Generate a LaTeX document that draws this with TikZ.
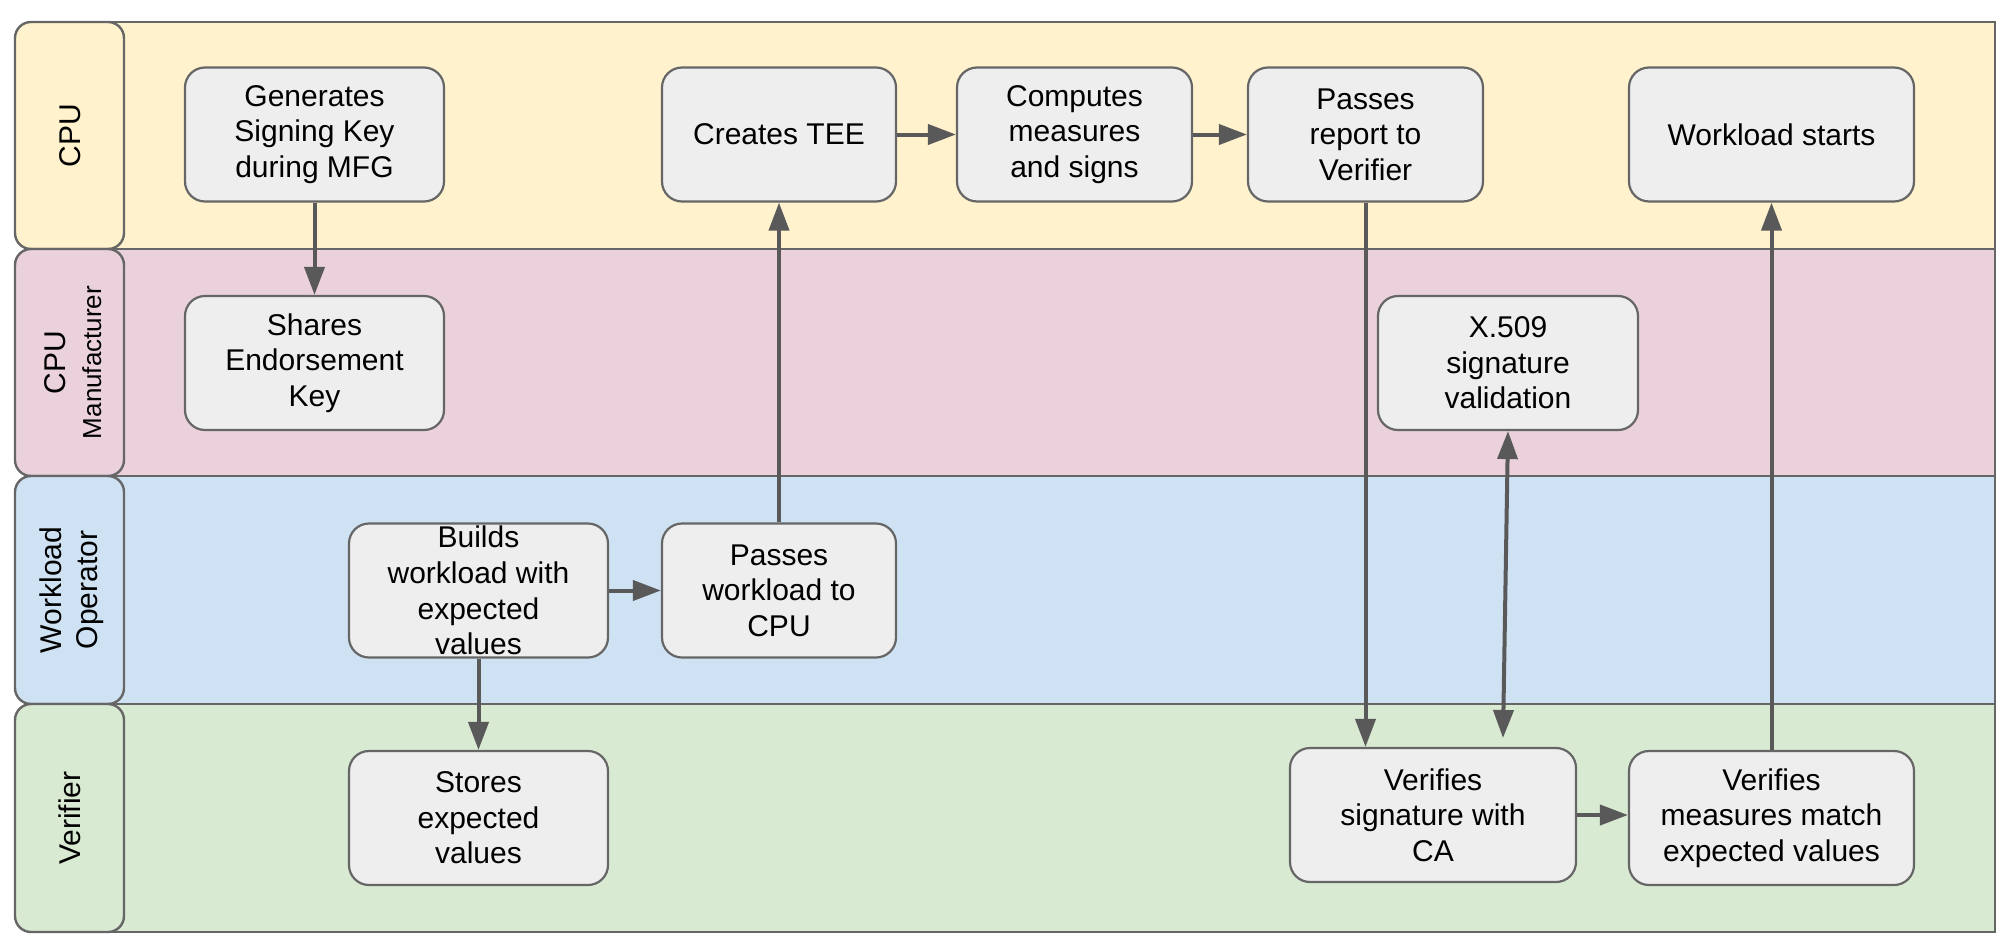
\documentclass[tikz,border=0pt]{standalone}
\usepackage{fontspec}
\setmainfont{Liberation Sans}
\usetikzlibrary{positioning, arrows.meta, calc}

\definecolor{cpulane}{HTML}{FFF2CC}
\definecolor{mfglane}{HTML}{EAD1DC}
\definecolor{oplane}{HTML}{CFE2F3}
\definecolor{verlane}{HTML}{D9EAD3}
\definecolor{boxfill}{HTML}{EEEEEE}
\definecolor{edgegray}{HTML}{666666}
\definecolor{arrowgray}{HTML}{595959}

\begin{document}
\begin{tikzpicture}[x=0.5pt, y=-0.5pt, font=\fontsize{15}{17.8}\selectfont,
        taskbox/.style={draw=edgegray, fill=boxfill, line width=1.1pt, rounded corners=10pt,
            align=center, minimum height=67pt, inner xsep=2pt, inner ysep=0pt},
        flow/.style={draw=arrowgray, line width=2pt, -{Triangle[length=14pt, width=10pt]}},
        lanelabel/.style={rotate=90, align=center}]

    \useasboundingbox (0,0) rectangle (1999,948);

    % --- lanes ---
    \foreach \ya/\yb/\col in {22/249/cpulane, 249/476/mfglane, 476/704/oplane, 704/932/verlane} {
        \draw[fill=\col, draw=edgegray, line width=1.2pt] (70,\ya) rectangle (1995,\yb);
        \draw[fill=\col, draw=edgegray, line width=1.2pt, rounded corners=8pt] (15,\ya) rectangle (124,\yb);
    }

    % --- lane labels ---
    \node[lanelabel] (lcpu) at (70,135.5) {CPU};
    \node[lanelabel] (lmfg) at (73,362.5) {CPU\\{\fontsize{13}{15}\selectfont Manufacturer}};
    \node[lanelabel] (lop) at (72,590) {Workload\\Operator};
    \node[lanelabel] (lver) at (70,818) {Verifier};

    % --- CPU ---
    \node[taskbox, minimum width=129.5pt] (gen) at (314.5,134.5) {Generates\\Signing Key\\during MFG};
    \node[taskbox, minimum width=117pt] (tee) at (779,134.5) {Creates TEE};
    \node[taskbox, minimum width=117.5pt] (comp) at (1074.5,134.5) {Computes\\measures\\and signs};
    \node[taskbox, minimum width=117.5pt] (rep) at (1365.5,134.5) {Passes\\report to\\Verifier};
    \node[taskbox, minimum width=142.5pt] (start) at (1771.5,134.5) {Workload starts};

    % --- CPU Manufacturer ---
    \node[taskbox, minimum width=129.5pt] (shares) at (314.5,363) {Shares\\Endorsement\\Key};
    \node[taskbox, minimum width=130pt] (x509) at (1508,363) {X.509\\signature\\validation};

    % --- Workload Operator ---
    \node[taskbox, minimum width=129.5pt] (build) at (478.5,590.5) {Builds\\workload with\\expected\\values};
    \node[taskbox, minimum width=117pt] (passwl) at (779,590.5) {Passes\\workload to\\CPU};

    % --- Verifier ---
    \node[taskbox, minimum width=129.5pt] (store) at (478.5,818) {Stores\\expected\\values};
    \node[taskbox, minimum width=143pt] (vsig) at (1433,815) {Verifies\\signature with\\CA};
    \node[taskbox, minimum width=142.5pt] (vmeas) at (1771.5,818) {Verifies\\measures match\\expected values};

    % --- arrows ---
    \draw[flow] (gen) -- (shares);
    \draw[flow] (tee) -- (comp);
    \draw[flow] (comp) -- (rep);
    \draw[flow] (passwl) -- (tee);
    \draw[flow] (build) -- (passwl);
    \draw[flow] (build) -- (store);
    \draw[flow] (rep.south) -- (rep.south |- vsig.north);
    \draw[flow] (vsig.east) -- (vsig.east -| vmeas.west);
    \draw[flow] (vmeas) -- (start);
    \coordinate (sigtop) at (1503,738);
    \draw[flow, {Triangle[length=14pt, width=10pt]}-{Triangle[length=14pt, width=10pt]}] (x509.south) -- (sigtop);
\end{tikzpicture}
\end{document}
